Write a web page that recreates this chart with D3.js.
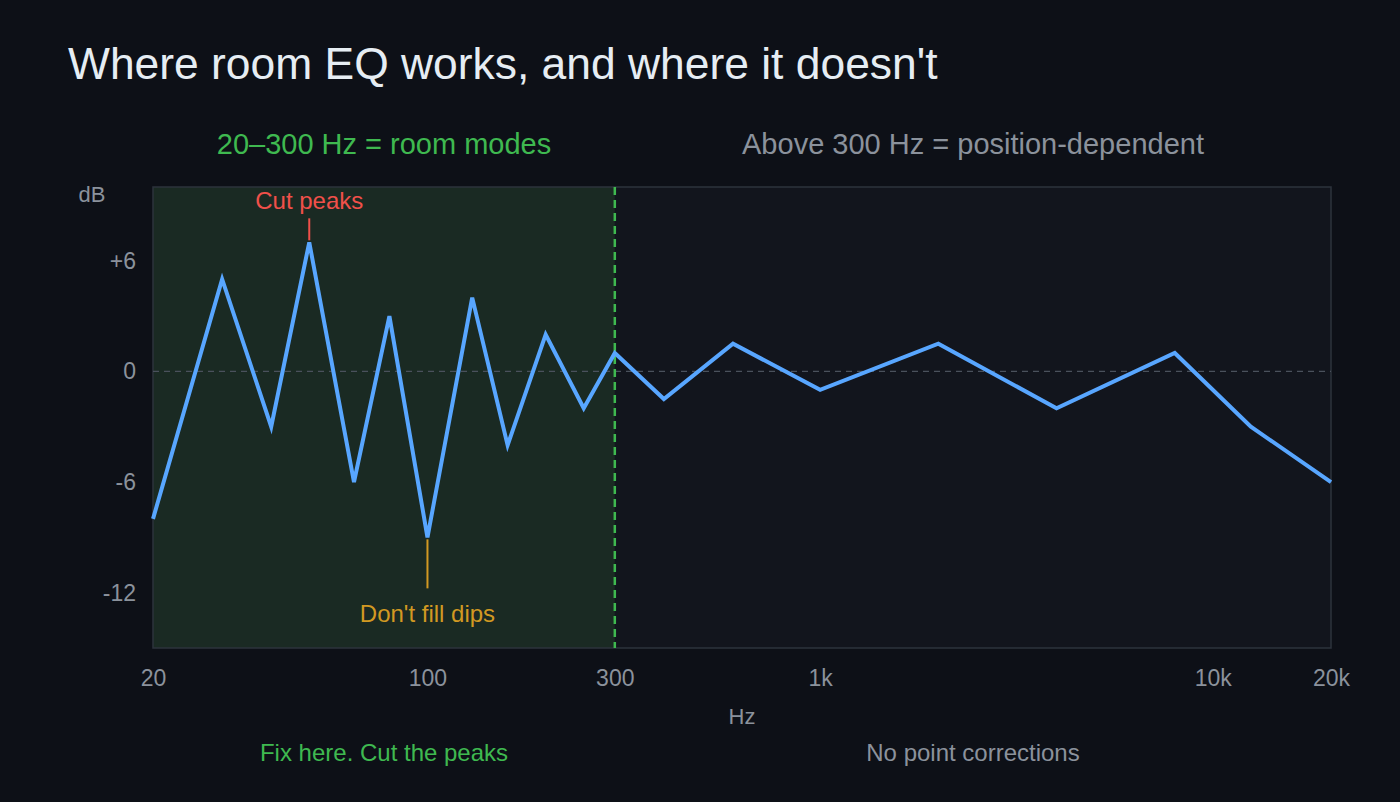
<!DOCTYPE html>
<html>
<head>
<meta charset="utf-8">
<script src="https://cdn.jsdelivr.net/npm/d3@7"></script>
<style>
  html, body { margin: 0; padding: 0; background: #0d1017; }
  svg { display: block; font-family: "Liberation Sans", Arial, sans-serif; }
</style>
</head>
<body>
<svg id="chart"></svg>
<script>
// frequency response, Hz and dB
const freqs = [20, 30, 40, 50, 65, 80, 100, 130, 160, 200, 250, 300, 400, 600, 1000, 2000, 4000, 8000, 12500, 20000];
const levels = [-8, 5, -3, 7, -6, 3, -9, 4, -4, 2, -2, 1, -1.5, 1.5, -1, 1.5, -2, 1, -3, -6];
const xTicks = [20, 100, 300, 1000, 10000, 20000];
const xTickLabels = ["20", "100", "300", "1k", "10k", "20k"];
const yTicks = [6, 0, -6, -12];
const yTickLabels = ["+6", "0", "-6", "-12"];
const splitFreq = 300;
const peakFreq = 50, peakLevel = 7;
const dipFreq = 100, dipLevel = -9;

const width = 1400, height = 802;
const margin = { top: 187, right: 69, bottom: 154, left: 153 };

const svg = d3.select("#chart").attr("width", width).attr("height", height);

svg.append("rect").attr("width", width).attr("height", height).attr("fill", "#0d1017");

const x = d3.scaleLog().domain([20, 20000]).range([margin.left, width - margin.right]);
const y = d3.scaleLinear().domain([-15, 10]).range([height - margin.bottom, margin.top]);

// plot background
svg.append("rect")
  .attr("x", x(20)).attr("y", y(10))
  .attr("width", x(20000) - x(20)).attr("height", y(-15) - y(10))
  .attr("fill", "#12151d");

// room modes zone
svg.append("rect")
  .attr("x", x(20)).attr("y", y(10))
  .attr("width", x(splitFreq) - x(20)).attr("height", y(-15) - y(10))
  .attr("fill", "#1a2a23");

// frame
svg.append("rect")
  .attr("x", x(20)).attr("y", y(10))
  .attr("width", x(20000) - x(20)).attr("height", y(-15) - y(10))
  .attr("fill", "none")
  .attr("stroke", "#2d333d")
  .attr("stroke-width", 1.5);

// zero line
svg.append("line")
  .attr("x1", x(20)).attr("x2", x(20000))
  .attr("y1", y(0)).attr("y2", y(0))
  .attr("stroke", "#4a515c")
  .attr("stroke-width", 1.2)
  .attr("stroke-dasharray", "6,5");

// split line
svg.append("line")
  .attr("x1", x(splitFreq)).attr("x2", x(splitFreq))
  .attr("y1", y(10)).attr("y2", y(-15))
  .attr("stroke", "#3fb950")
  .attr("stroke-width", 2.5)
  .attr("stroke-dasharray", "8,5");

// axes
const xAxis = d3.axisBottom(x)
  .tickValues(xTicks)
  .tickFormat((d, i) => xTickLabels[i])
  .tickSize(0)
  .tickPadding(22);

svg.append("g")
  .attr("transform", `translate(0,${y(-15)})`)
  .call(xAxis)
  .call((g) => g.select(".domain").remove())
  .call((g) => g.selectAll("text")
    .attr("fill", "#8b929c")
    .attr("font-size", 23)
    .attr("font-family", "Liberation Sans, Arial, sans-serif"));

const yAxis = d3.axisLeft(y)
  .tickValues(yTicks)
  .tickFormat((d, i) => yTickLabels[i])
  .tickSize(0)
  .tickPadding(17);

svg.append("g")
  .attr("transform", `translate(${x(20)},0)`)
  .call(yAxis)
  .call((g) => g.select(".domain").remove())
  .call((g) => g.selectAll("text")
    .attr("fill", "#8b929c")
    .attr("font-size", 23)
    .attr("font-family", "Liberation Sans, Arial, sans-serif"));

// annotations
svg.append("line")
  .attr("x1", x(peakFreq)).attr("x2", x(peakFreq))
  .attr("y1", y(peakLevel) - 24).attr("y2", y(peakLevel) - 2)
  .attr("stroke", "#f0504a").attr("stroke-width", 2);

svg.append("text")
  .attr("x", x(peakFreq)).attr("y", y(peakLevel) - 33)
  .attr("text-anchor", "middle")
  .attr("fill", "#f0504a")
  .attr("font-size", 24)
  .text("Cut peaks");

svg.append("line")
  .attr("x1", x(dipFreq)).attr("x2", x(dipFreq))
  .attr("y1", y(dipLevel) + 2).attr("y2", y(dipLevel) + 51)
  .attr("stroke", "#d29922").attr("stroke-width", 2);

svg.append("text")
  .attr("x", x(dipFreq)).attr("y", y(dipLevel) + 85)
  .attr("text-anchor", "middle")
  .attr("fill", "#d29922")
  .attr("font-size", 24)
  .text("Don't fill dips");

// response line
const line = d3.line()
  .x((d, i) => x(freqs[i]))
  .y((d) => y(d));

svg.append("path")
  .datum(levels)
  .attr("d", line)
  .attr("fill", "none")
  .attr("stroke", "#58a6ff")
  .attr("stroke-width", 4)
  .attr("stroke-linejoin", "miter");

// text
svg.append("text")
  .attr("x", 68).attr("y", 79)
  .attr("fill", "#e6edf3")
  .attr("font-size", 44.4)
  .text("Where room EQ works, and where it doesn't");

svg.append("text")
  .attr("x", 384).attr("y", 154)
  .attr("text-anchor", "middle")
  .attr("fill", "#3fb950")
  .attr("font-size", 29)
  .text("20–300 Hz = room modes");

svg.append("text")
  .attr("x", 973).attr("y", 154)
  .attr("text-anchor", "middle")
  .attr("fill", "#8b929c")
  .attr("font-size", 29)
  .text("Above 300 Hz = position-dependent");

svg.append("text")
  .attr("x", 92).attr("y", 202)
  .attr("text-anchor", "middle")
  .attr("fill", "#8b929c")
  .attr("font-size", 22)
  .text("dB");

svg.append("text")
  .attr("x", 742).attr("y", 724)
  .attr("text-anchor", "middle")
  .attr("fill", "#8b929c")
  .attr("font-size", 22)
  .text("Hz");

svg.append("text")
  .attr("x", 384).attr("y", 761)
  .attr("text-anchor", "middle")
  .attr("fill", "#3fb950")
  .attr("font-size", 24)
  .text("Fix here. Cut the peaks");

svg.append("text")
  .attr("x", 973).attr("y", 761)
  .attr("text-anchor", "middle")
  .attr("fill", "#8b929c")
  .attr("font-size", 24)
  .text("No point corrections");
</script>
</body>
</html>
